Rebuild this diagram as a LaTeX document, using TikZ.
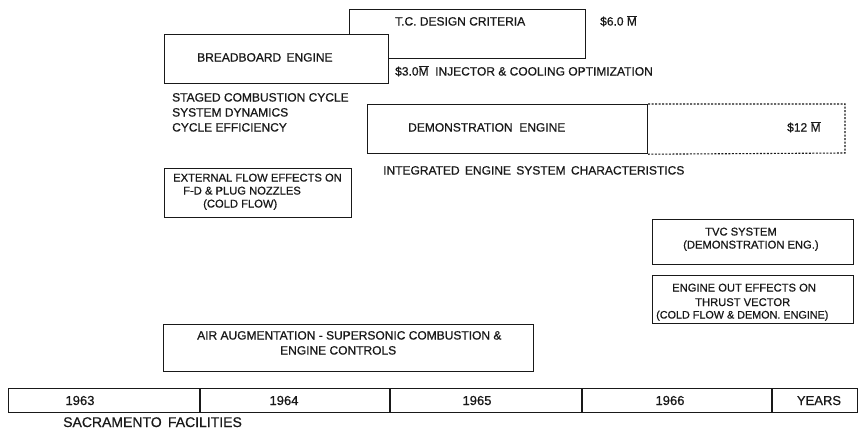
\documentclass[tikz,border=0pt]{standalone}
\usepackage{fontspec}
\setmainfont{Liberation Sans}[FakeBold=0.7]
\definecolor{ink}{RGB}{25,25,25}
\newcommand{\Mbar}{\ensuremath{\overline{\hbox{M}}}}
\begin{document}
\begin{tikzpicture}[x=1pt,y=-1pt,
  box/.style={draw=ink, line width=1.2pt, fill=white, inner sep=0pt, anchor=north west},
  lbl/.style={inner sep=0pt, anchor=base west, text=ink, font=\fontsize{12}{14}\selectfont},
  sml/.style={lbl, font=\fontsize{11.2}{13}\selectfont},
  yr/.style={inner sep=0pt, anchor=base, text=ink, font=\fontsize{13}{15}\selectfont},
  dline/.style={draw=ink, line width=1.2pt},
  dashline/.style={draw=ink, line width=1.1pt, dash pattern=on 2pt off 1.5pt}]
\useasboundingbox (0,0) rectangle (860,434);
% T.C. design criteria (behind breadboard)
\node[box, minimum width=236pt, minimum height=49pt] (tc) at (349,9) {};
\node[box, minimum width=224pt, minimum height=49pt] (bb) at (164,34) {};
\node[lbl] (tct) at (395,25.5) {T.C. DESIGN CRITERIA};
\node[lbl] (tcc) at (600,25.5) {\$6.0 \Mbar};
\node[lbl] (bbt) at (197,61.5) {BREADBOARD\, ENGINE};
\node[lbl] (inj) at (395,75.5) {\$3.0\Mbar\ \ INJECTOR \& COOLING OPTIMIZATION};
\node[lbl] (st1) at (172,101.5) {STAGED COMBUSTION CYCLE};
\node[lbl] (st2) at (172,116.5) {SYSTEM DYNAMICS};
\node[lbl] (st3) at (172,131.5) {CYCLE EFFICIENCY};
% demonstration engine
\node[box, minimum width=280pt, minimum height=49pt] (demo) at (367,104) {};
\coordinate (dne) at (845,104);
\coordinate (dse) at (845,153);
\draw[dashline] (demo.north east) -- (dne) -- (dse) -- (demo.south east);
\node[lbl] (demot) at (408,131.5) {DEMONSTRATION\ \ ENGINE};
\node[lbl] (democ) at (787,131.5) {\$12 \Mbar};
\node[lbl] (integ) at (383,174.5) {INTEGRATED\, ENGINE\, SYSTEM\, CHARACTERISTICS};
% external flow
\node[box, minimum width=187pt, minimum height=49pt] (ext) at (164,168) {};
\node[sml] (ex1) at (173,181.5) {EXTERNAL FLOW EFFECTS ON};
\node[sml] (ex2) at (183,194.5) {F-D \& PLUG NOZZLES};
\node[sml] (ex3) at (203,207.5) {(COLD FLOW)};
% TVC
\node[box, minimum width=201pt, minimum height=45pt] (tvc) at (652,219) {};
\node[sml] (tv1) at (705,235.5) {TVC SYSTEM};
\node[sml] (tv2) at (683,248.5) {(DEMONSTRATION ENG.)};
% engine out
\node[box, minimum width=201pt, minimum height=48pt] (eo) at (652,275) {};
\node[sml] (eo1) at (672,291.5) {ENGINE OUT EFFECTS ON};
\node[sml] (eo2) at (695,306) {THRUST VECTOR};
\node[sml, font=\fontsize{10.8}{13}\selectfont] (eo3) at (656,318.5) {(COLD FLOW \& DEMON. ENGINE)};
% air augmentation
\node[box, minimum width=370pt, minimum height=47pt] (air) at (163,324) {};
\node[lbl] (ai1) at (197,339.5) {AIR AUGMENTATION - SUPERSONIC COMBUSTION \&};
\node[lbl] (ai2) at (280,354.5) {ENGINE CONTROLS};
% timeline
\node[box, minimum width=849pt, minimum height=24pt] (tl) at (8,388) {};
\coordinate (d1t) at (200,388); \coordinate (d1b) at (200,412);
\coordinate (d2t) at (390,388); \coordinate (d2b) at (390,412);
\coordinate (d3t) at (582,388); \coordinate (d3b) at (582,412);
\coordinate (d4t) at (772,388); \coordinate (d4b) at (772,412);
\draw[dline] (d1t) -- (d1b) (d2t) -- (d2b) (d3t) -- (d3b) (d4t) -- (d4b);
\node[yr] (y63) at (80,405) {1963};
\node[yr] (y64) at (284,405) {1964};
\node[yr] (y65) at (477,405) {1965};
\node[yr] (y66) at (670,405) {1966};
\node[yr] (yrs) at (819,405) {YEARS};
\node[lbl, font=\fontsize{14}{16}\selectfont] (sac) at (63,427) {SACRAMENTO\, FACILITIES};
\end{tikzpicture}
\end{document}
